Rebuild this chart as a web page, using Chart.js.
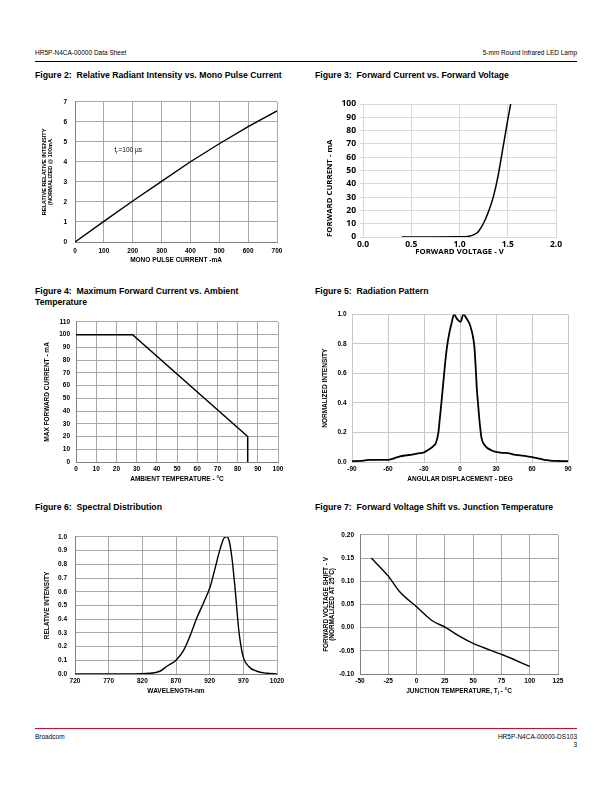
<!DOCTYPE html>
<html>
<head>
<meta charset="utf-8">
<script src="https://cdn.jsdelivr.net/npm/chart.js@4.4.1/dist/chart.umd.min.js"></script>
<style>
  body { margin: 0; width: 612px; height: 792px; background: #fff; position: relative; font-family: "Liberation Sans", Arial, sans-serif; color: #000; }
  .t { position: absolute; white-space: nowrap; line-height: 1; }
  .hd { font-size: 6.5px; }
  .fig { font-size: 8.7px; font-weight: bold; }
  canvas { position: absolute; }
</style>
</head>
<body>
<div class="t hd" style="left:35px; top:49.5px;">HR5P-N4CA-00000 Data Sheet</div>
<div class="t hd" style="right:35px; top:49.5px;">5-mm Round Infrared LED Lamp</div>
<div style="position:absolute; left:35px; top:60.5px; width:542px; height:1px; background:#000;"></div>

<div class="t fig" style="left:35px; top:70.5px;">Figure 2:&nbsp; Relative Radiant Intensity vs. Mono Pulse Current</div>
<div class="t fig" style="left:315px; top:70.5px;">Figure 3:&nbsp; Forward Current vs. Forward Voltage</div>
<div class="t fig" style="left:35px; top:286.5px;">Figure 4:&nbsp; Maximum Forward Current vs. Ambient</div>
<div class="t fig" style="left:35px; top:298px;">Temperature</div>
<div class="t fig" style="left:315px; top:286.5px;">Figure 5:&nbsp; Radiation Pattern</div>
<div class="t fig" style="left:35px; top:502.5px;">Figure 6:&nbsp; Spectral Distribution</div>
<div class="t fig" style="left:315px; top:502.5px;">Figure 7:&nbsp; Forward Voltage Shift vs. Junction Temperature</div>

<canvas id="fig2" width="270" height="180" style="left:30px; top:90px;"></canvas>
<canvas id="fig3" width="280" height="175" style="left:310px; top:92px;"></canvas>
<canvas id="fig4" width="270" height="172" style="left:30px; top:312px;"></canvas>
<canvas id="fig5" width="280" height="179" style="left:310px; top:305px;"></canvas>
<canvas id="fig6" width="270" height="173" style="left:30px; top:525px;"></canvas>
<canvas id="fig7" width="280" height="173" style="left:310px; top:525px;"></canvas>

<div style="position:absolute; left:35px; top:727.5px; width:542px; height:1.3px; background:#cc092f;"></div>
<div class="t hd" style="left:35px; top:733.5px;">Broadcom</div>
<div class="t hd" style="right:35px; top:733.5px;">HR5P-N4CA-00000-DS103</div>
<div class="t hd" style="right:35px; top:741.5px;">3</div>

<script>
// Figure 2: relative radiant intensity vs mono pulse current
const pulseCurrent = [0, 100, 200, 300, 400, 500, 600, 700];
const pulseIntensity = [0, 1.03, 2.05, 3.03, 4.01, 4.91, 5.76, 6.55];
const pulseNote = [137, 4.6]; // where "tr=100 µs" sits (mA, intensity)

// Figure 3: forward current vs forward voltage
const fwdVoltage = [0.4, 0.7, 1.0, 1.1, 1.15, 1.18, 1.2, 1.25, 1.3, 1.35, 1.4, 1.45, 1.5, 1.53];
const fwdCurrent = [0, 0, 0.1, 0.6, 1.8, 3, 4.5, 10.5, 19, 30, 46, 67, 88, 100];

// Figure 4: max forward current vs ambient temperature
const ambientTemp = [0, 28, 85, 85];
const maxCurrent = [100, 100, 20, 0];

// Figure 5: radiation pattern
const angle = [-90, -80, -75, -60, -55, -50, -45, -40, -35, -30, -27, -25, -22, -20, -18, -17, -15.5, -14, -12.5, -11, -9, -7, -5,
  -2.5, 0.5, 2.8, 5.6, 7.8, 9.7, 11, 12, 13, 14, 15, 16, 17, 18, 20, 22, 26, 30, 35, 40, 45, 50, 55, 60, 65, 70, 75, 80, 90];
const intensity = [0.005, 0.01, 0.015, 0.015, 0.025, 0.038, 0.045, 0.05, 0.058, 0.065, 0.08, 0.09, 0.11, 0.13, 0.2, 0.28, 0.4, 0.53, 0.66, 0.77, 0.87, 0.94, 1.0,
  0.97, 0.95, 1.0, 0.97, 0.94, 0.89, 0.84, 0.78, 0.65, 0.5, 0.4, 0.3, 0.22, 0.16, 0.12, 0.1, 0.08, 0.068, 0.062, 0.06, 0.05, 0.045, 0.04, 0.033, 0.025, 0.015, 0.01, 0.007, 0.005];

// Figure 6: spectral distribution
const wavelength = [720, 800, 831.5, 846, 856, 870, 881, 891, 901, 911, 921, 928, 936, 942, 945.5, 949, 953, 958, 963, 969, 978, 990, 1005, 1020];
const relIntensity = [0, 0, 0.005, 0.02, 0.055, 0.1, 0.17, 0.28, 0.41, 0.52, 0.64, 0.77, 0.92, 0.995, 1.0, 0.97, 0.85, 0.61, 0.33, 0.14, 0.055, 0.02, 0.005, 0];

// Figure 7: forward voltage shift vs junction temperature
const junctionTemp = [-40, -25, -14.7, 0, 13.2, 25.9, 38.2, 50, 76.5, 100];
const voltageShift = [0.15, 0.111, 0.077, 0.045, 0.016, 0, -0.019, -0.034, -0.059, -0.0836];

Chart.defaults.color = "#000";
Chart.defaults.font.family = '"Liberation Sans", Arial, sans-serif';

const small = { size: 6.5, weight: "bold" };
const smallTitle = { size: 6.5, weight: "bold", lineHeight: 1.2 };

function pts(xs, ys) {
  return xs.map((x, i) => ({ x: x, y: ys[i] }));
}

// build one chart with a fixed plot box inside its canvas
function makeChart(id, c) {
  const ctx = document.getElementById(id).getContext("2d");
  return new Chart(ctx, {
    type: "line",
    data: {
      datasets: [{
        data: pts(c.xs, c.ys),
        borderColor: "#000",
        borderWidth: c.lineWidth || 1.4,
        pointRadius: 0,
        fill: false,
        cubicInterpolationMode: c.smooth ? "monotone" : "default",
        tension: 0
      }]
    },
    options: {
      responsive: false,
      animation: false,
      events: [],
      layout: { padding: { top: c.padTop, right: c.padRight, left: 0, bottom: 0 } },
      plugins: { legend: { display: false }, tooltip: { enabled: false } },
      scales: {
        x: {
          type: "linear",
          min: c.xMin, max: c.xMax,
          afterFit: s => { s.height = c.xH; },
          afterBuildTicks: s => { s.ticks = c.xTicks.map(v => ({ value: v })); },
          ticks: { font: c.tickFont || small, padding: c.xPad, maxRotation: 0, autoSkip: false,
                   callback: c.xFmt || (v => v) },
          grid: { color: c.grid, lineWidth: 1, drawTicks: false },
          border: { display: true, color: c.border || c.grid },
          title: { display: true, text: c.xTitle, font: c.titleFont || smallTitle,
                   padding: { top: 0, bottom: c.xTitlePad } }
        },
        y: {
          type: "linear",
          min: c.yMin, max: c.yMax,
          afterFit: s => { s.width = c.yW; },
          afterBuildTicks: s => { s.ticks = c.yTicks.map(v => ({ value: v })); },
          ticks: { font: c.tickFont || small, padding: c.yPad, callback: c.yFmt || (v => v) },
          grid: { color: c.grid, lineWidth: 1, drawTicks: !!c.yTickLen, tickLength: c.yTickLen || 0 },
          border: { display: true, color: c.border || c.grid },
          title: { display: true, text: c.yTitle, font: c.yTitleFont || c.titleFont || smallTitle,
                   align: c.yAlign || "center", padding: { top: c.yTitlePad, bottom: 0 } }
        }
      }
    },
    plugins: c.plugins || []
  });
}

const range = (a, b, s) => { const r = []; for (let v = a; v <= b + 1e-9; v += s) r.push(+v.toFixed(4)); return r; };

const pulseNotePlugin = {
  id: "pulseNote",
  afterDatasetsDraw(chart) {
    const { ctx, scales: { x, y } } = chart;
    const px = x.getPixelForValue(pulseNote[0]);
    const py = y.getPixelForValue(pulseNote[1]);
    ctx.save();
    ctx.fillStyle = "#000";
    ctx.textBaseline = "middle";
    ctx.font = '6.5px "Liberation Sans", Arial, sans-serif';
    ctx.fillText("t", px, py);
    const tw = ctx.measureText("t").width;
    ctx.font = '4.5px "Liberation Sans", Arial, sans-serif';
    ctx.fillText("r", px + tw, py + 3);
    ctx.font = '6.5px "Liberation Sans", Arial, sans-serif';
    ctx.fillText("=100 µs", px + tw + 2.2, py);
    ctx.restore();
  }
};

makeChart("fig2", {
  xs: pulseCurrent, ys: pulseIntensity, lineWidth: 1.4,
  padTop: 9, padRight: 23, xH: 28, yW: 45,
  xMin: 0, xMax: 700, xTicks: range(0, 700, 100),
  yMin: 0, yMax: 7, yTicks: range(0, 7, 1),
  grid: "#a8a8a8", border: "#808080",
  xPad: 5, yPad: 8,
  xTitle: "MONO PULSE CURRENT -mA", xTitlePad: 6,
  yTitle: ["RELATIVE RELATIVE INTENSITY", "(NORMALIZED @ 100mA"], yTitlePad: 12.3,
  yTitleFont: { size: 5.6, weight: "bold", lineHeight: "5.3px" },
  plugins: [pulseNotePlugin]
});

const bigTick = { family: '"Open Sans", sans-serif', size: 8.5, weight: "bold" };
const bigTitle = { family: '"Open Sans", sans-serif', size: 7.8, weight: "bold", lineHeight: 1.2 };

makeChart("fig3", {
  xs: fwdVoltage, ys: fwdCurrent, smooth: true, lineWidth: 1.5,
  padTop: 12, padRight: 34, xH: 30, yW: 53,
  xMin: 0, xMax: 2, xTicks: range(0, 2, 0.5), xFmt: v => v.toFixed(1),
  yMin: 0, yMax: 100, yTicks: range(0, 100, 10),
  grid: "#d9d9d9",
  tickFont: bigTick, titleFont: bigTitle,
  xPad: 2, yPad: 4, yTickLen: 3,
  xTitle: "FORWARD VOLTAGE - V", xTitlePad: 10.8,
  yTitle: "FORWARD CURRENT - mA", yTitlePad: 15.3, yAlign: "start"
});

makeChart("fig4", {
  xs: ambientTemp, ys: maxCurrent, lineWidth: 1.5,
  padTop: 9, padRight: 22, xH: 22, yW: 46,
  xMin: 0, xMax: 100, xTicks: range(0, 100, 10),
  yMin: 0, yMax: 110, yTicks: range(0, 110, 10),
  grid: "#a8a8a8", border: "#808080",
  xPad: 3, yPad: 6,
  xTitle: "AMBIENT TEMPERATURE - °C", xTitlePad: 1,
  yTitle: "MAX FORWARD CURRENT - mA", yTitlePad: 13
});

makeChart("fig5", {
  xs: angle, ys: intensity, smooth: true, lineWidth: 1.8,
  padTop: 8, padRight: 22, xH: 22, yW: 42,
  xMin: -90, xMax: 90, xTicks: range(-90, 90, 30),
  yMin: 0, yMax: 1, yTicks: range(0, 1, 0.2), yFmt: v => v.toFixed(1),
  grid: "#c8c8c8",
  xPad: 3, yPad: 5.5,
  xTitle: "ANGULAR DISPLACEMENT - DEG", xTitlePad: 1,
  yTitle: "NORMALIZED INTENSITY", yTitlePad: 11
});

makeChart("fig6", {
  xs: wavelength, ys: relIntensity, smooth: true, lineWidth: 1.4,
  padTop: 9, padRight: 23, xH: 24, yW: 45,
  xMin: 720, xMax: 1020, xTicks: range(720, 1020, 50),
  yMin: 0, yMax: 1, yTicks: range(0, 1, 0.1), yFmt: v => v.toFixed(1),
  grid: "#a8a8a8", border: "#808080",
  xPad: 3, yPad: 8,
  xTitle: "WAVELENGTH-nm", xTitlePad: 3,
  yTitle: "RELATIVE INTENSITY", yTitlePad: 13
});

makeChart("fig7", {
  xs: junctionTemp, ys: voltageShift, smooth: true, lineWidth: 1.4,
  padTop: 9, padRight: 32, xH: 24, yW: 50,
  xMin: -50, xMax: 125, xTicks: range(-50, 125, 25),
  yMin: -0.1, yMax: 0.2, yTicks: range(-0.1, 0.2, 0.05), yFmt: v => v.toFixed(2),
  grid: "#a8a8a8", border: "#808080",
  xPad: 3, yPad: 6,
  xTitle: "JUNCTION TEMPERATURE, T\u2C7C - °C", xTitlePad: 3,
  yTitle: ["FORWARD VOLTAGE SHIFT - V", "(NORMALIZED AT 25°C)"], yTitlePad: 13.8,
  yTitleFont: { size: 6.4, weight: "bold", lineHeight: "5.8px" }
});
</script>
</body>
</html>
